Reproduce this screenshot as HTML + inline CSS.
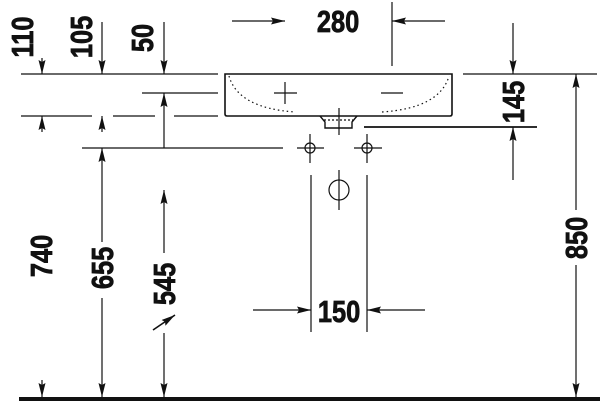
<!DOCTYPE html>
<html><head><style>html,body{margin:0;padding:0;background:#fff}svg{display:block}</style></head><body>
<svg width="600" height="402" viewBox="0 0 600 402" xmlns="http://www.w3.org/2000/svg">
<defs>
<marker id="a" viewBox="0 0 14 7" refX="14" refY="3.5" markerWidth="14" markerHeight="7" markerUnits="userSpaceOnUse" orient="auto"><path d="M0,0L14,3.5L0,7L2,3.5z" fill="#111"/></marker>
</defs>
<g stroke="#111" stroke-width="1.2" fill="none">
<line x1="21" y1="74" x2="218" y2="74"/>
<line x1="463" y1="74" x2="597" y2="74"/>
<line x1="142" y1="93" x2="218" y2="93"/>
<line x1="21" y1="116" x2="92" y2="116"/>
<line x1="113" y1="116" x2="155" y2="116"/>
<line x1="174" y1="116" x2="218" y2="116"/>
<line x1="82" y1="148" x2="283" y2="148"/>
<line x1="364" y1="127" x2="537" y2="127" stroke-width="1.8"/>
<path d="M225,74 L452,74 L452,114 Q452,116 450,116 L227,116 Q225,116 225,114 Z" stroke-width="1.6"/>
<path d="M229,76 Q238,108 295,112 M382,112 Q440,108 449,76" stroke-dasharray="1.5 3"/>
<path d="M320,116 L325,122 L325,128 L352,128 L352,122 L357,116" stroke-width="1.4"/>
<line x1="324" y1="120" x2="353" y2="120" stroke-dasharray="2 2"/>
<line x1="339" y1="108" x2="339" y2="135"/>
<line x1="274" y1="93" x2="297" y2="93"/><line x1="285" y1="82" x2="285" y2="104"/>
<line x1="381" y1="93" x2="403" y2="93"/>
<circle cx="310" cy="148" r="5"/><line x1="297" y1="148" x2="324" y2="148"/><line x1="310" y1="134" x2="310" y2="163"/>
<circle cx="367" cy="148" r="5"/><line x1="354" y1="148" x2="382" y2="148"/><line x1="367" y1="134" x2="367" y2="163"/>
<circle cx="339" cy="190" r="10"/><line x1="339" y1="170" x2="339" y2="210"/>
<line x1="311" y1="175" x2="311" y2="332"/><line x1="367" y1="175" x2="367" y2="332"/>
<line x1="253" y1="310" x2="311" y2="310" marker-end="url(#a)"/>
<line x1="425" y1="310" x2="367" y2="310" marker-end="url(#a)"/>
<line x1="232" y1="21" x2="285" y2="21" marker-end="url(#a)"/>
<line x1="392" y1="2" x2="392" y2="66"/>
<line x1="445" y1="21" x2="392" y2="21" marker-end="url(#a)"/>
<line x1="42" y1="58" x2="42" y2="74" marker-end="url(#a)"/>
<line x1="42" y1="132" x2="42" y2="116" marker-end="url(#a)"/>
<line x1="42" y1="380" x2="42" y2="397" marker-end="url(#a)"/>
<line x1="102" y1="22" x2="102" y2="74" marker-end="url(#a)"/>
<line x1="102" y1="132" x2="102" y2="116" marker-end="url(#a)"/>
<line x1="102" y1="242" x2="102" y2="148" marker-end="url(#a)"/>
<line x1="102" y1="298" x2="102" y2="397" marker-end="url(#a)"/>
<line x1="164" y1="22" x2="164" y2="74" marker-end="url(#a)"/>
<line x1="164" y1="148" x2="164" y2="93" marker-end="url(#a)"/>
<line x1="164" y1="253" x2="164" y2="190" marker-end="url(#a)"/>
<line x1="164" y1="333" x2="164" y2="397" marker-end="url(#a)"/>
<line x1="153" y1="330" x2="175" y2="315" stroke-width="1.6" marker-end="url(#a)"/>
<line x1="513" y1="23" x2="513" y2="74" marker-end="url(#a)"/>
<line x1="513" y1="180" x2="513" y2="127" marker-end="url(#a)"/>
<line x1="576" y1="210" x2="576" y2="74" marker-end="url(#a)"/>
<line x1="576" y1="265" x2="576" y2="397" marker-end="url(#a)"/>
</g>
<rect x="19" y="397" width="581" height="4" fill="#111"/>
<g font-family="Liberation Sans, sans-serif" font-weight="bold" font-size="31" fill="#111" stroke="#111" stroke-width="0.8" text-anchor="middle">
<text transform="translate(338,32) scale(0.82,1)">280</text>
<text transform="translate(339,322) scale(0.82,1)">150</text>
<text transform="translate(22,37) rotate(-90) scale(0.82,1)" y="11">110</text>
<text transform="translate(81,37) rotate(-90) scale(0.82,1)" y="11">105</text>
<text transform="translate(142,38) rotate(-90) scale(0.82,1)" y="11">50</text>
<text transform="translate(41,256) rotate(-90) scale(0.82,1)" y="11">740</text>
<text transform="translate(102,268) rotate(-90) scale(0.82,1)" y="11">655</text>
<text transform="translate(164,284) rotate(-90) scale(0.82,1)" y="11">545</text>
<text transform="translate(513,102) rotate(-90) scale(0.82,1)" y="11">145</text>
<text transform="translate(576,238) rotate(-90) scale(0.82,1)" y="11">850</text>
</g>
</svg>
</body></html>
